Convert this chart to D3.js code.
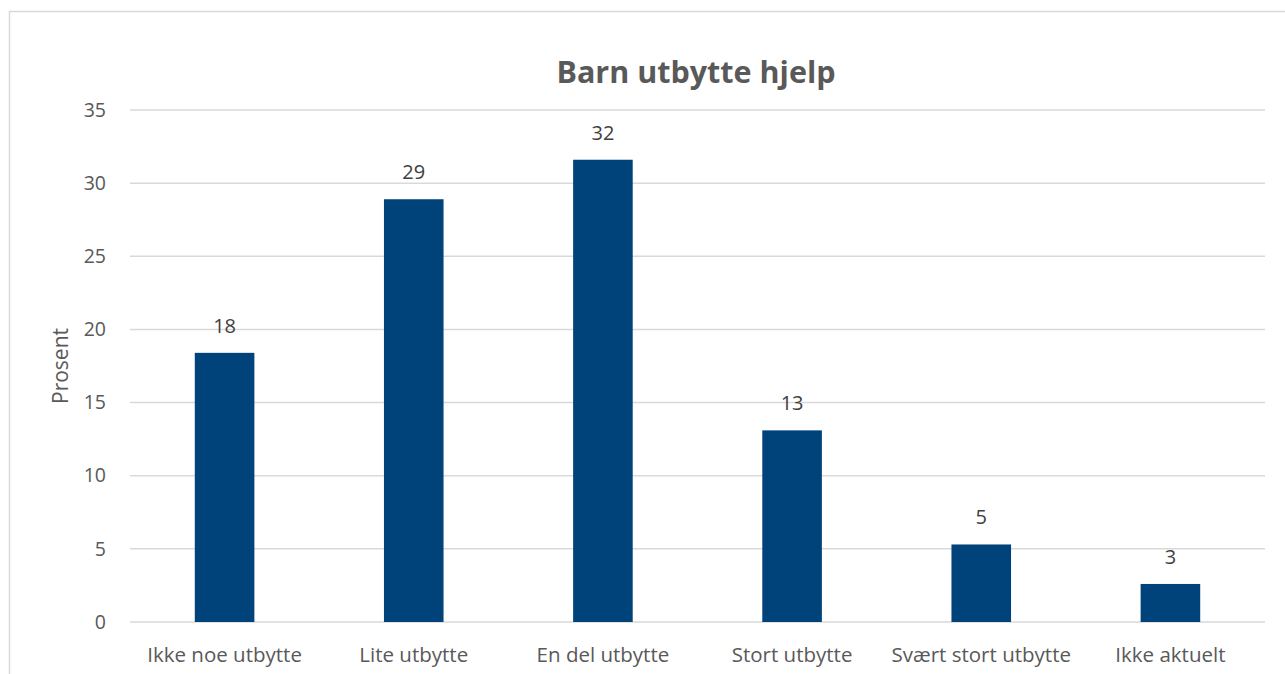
<!DOCTYPE html>
<html><head><meta charset="utf-8">
<script src="https://cdn.jsdelivr.net/npm/d3@7"></script>
<style>body{margin:0;background:#fff;} svg{display:block;}</style>
</head><body>
<script>
const categories = ["Ikke noe utbytte","Lite utbytte","En del utbytte","Stort utbytte","Svært stort utbytte","Ikke aktuelt"];
const values = [18.4, 28.9, 31.6, 13.1, 5.3, 2.6];
const labels = ["18","29","32","13","5","3"];
const yTicks = [0,5,10,15,20,25,30,35];
const title = "Barn utbytte hjelp";
const yTitle = "Prosent";

const W = 1285, H = 674;
const svg = d3.select("body").append("svg").attr("width", W).attr("height", H);
const font = "'Open Sans', Carlito, sans-serif";
const fs = 19.5;

svg.append("rect").attr("x", 9.5).attr("y", 11.5).attr("width", W + 10).attr("height", H + 10)
  .attr("fill", "#fff").attr("stroke", "#d9d9d9").attr("stroke-width", 1.5);

const m = {left: 130, right: 1265, top: 110, bottom: 622};
const x = d3.scaleBand().domain(categories).range([m.left, m.right]).paddingInner(0.685).paddingOuter(0.3425);
const y = d3.scaleLinear().domain([0, 35]).range([m.bottom, m.top]);

// gridlines
svg.append("g").selectAll("line").data(yTicks).join("line")
  .attr("x1", m.left).attr("x2", m.right)
  .attr("y1", d => y(d)).attr("y2", d => y(d))
  .attr("stroke", "#d9d9d9").attr("stroke-width", 1.5);

// y axis labels
const yAxis = svg.append("g").attr("transform", `translate(${m.left},0)`)
  .call(d3.axisLeft(y).tickValues(yTicks).tickSize(0).tickPadding(24));
yAxis.select(".domain").remove();
yAxis.selectAll("text").attr("font-family", font).attr("font-size", fs).attr("fill", "#595959");

// bars
svg.append("g").selectAll("rect").data(values).join("rect")
  .attr("x", (d, i) => x(categories[i]))
  .attr("width", x.bandwidth())
  .attr("y", d => y(d))
  .attr("height", d => y(0) - y(d))
  .attr("fill", "#00437a");

// value labels
svg.append("g").selectAll("text").data(values).join("text")
  .attr("x", (d, i) => x(categories[i]) + x.bandwidth() / 2)
  .attr("y", d => y(d) - 20)
  .attr("text-anchor", "middle")
  .attr("font-family", font).attr("font-size", 20).attr("fill", "#404040")
  .text((d, i) => labels[i]);

// x axis labels
const xAxis = svg.append("g").attr("transform", `translate(0,${m.bottom})`)
  .call(d3.axisBottom(x).tickSize(0).tickPadding(25));
xAxis.select(".domain").remove();
xAxis.selectAll("text").attr("font-family", font).attr("font-size", 20.5).attr("fill", "#595959");

// title
svg.append("text").attr("x", 696).attr("y", 83).attr("text-anchor", "middle")
  .attr("font-family", font).attr("font-weight", "bold").attr("font-size", 30.5).attr("fill", "#595959")
  .text(title);

// y title
svg.append("text").attr("transform", `translate(68,${(m.top + m.bottom) / 2}) rotate(-90)`)
  .attr("text-anchor", "middle")
  .attr("font-family", font).attr("font-size", 21).attr("fill", "#595959")
  .text(yTitle);
</script>
</body></html>
